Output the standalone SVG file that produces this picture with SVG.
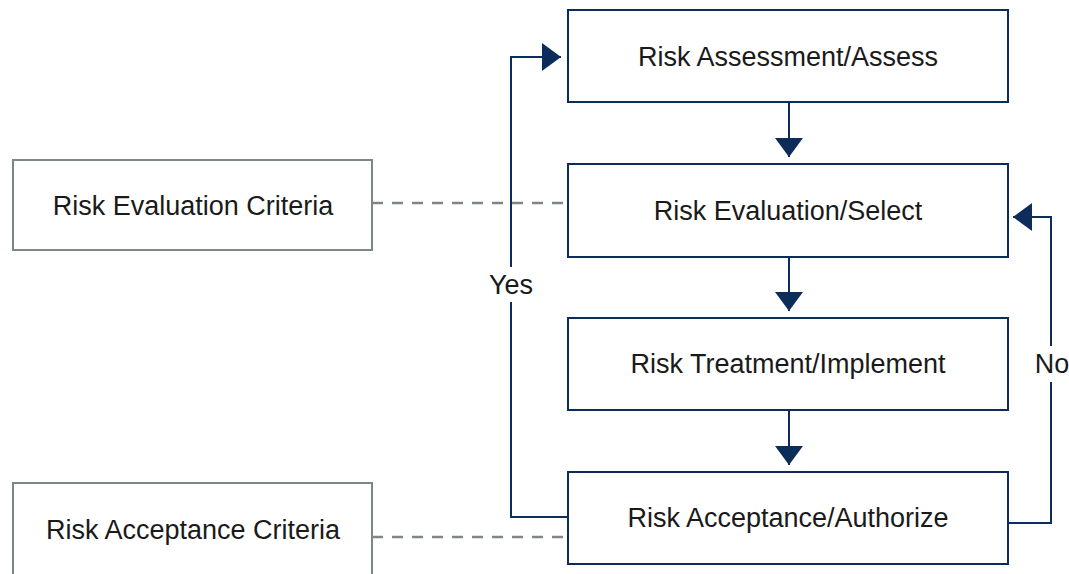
<svg xmlns="http://www.w3.org/2000/svg" width="1069" height="574" viewBox="0 0 1069 574">
  <style>
    .step rect { fill: #ffffff; stroke: #0c2d5a; stroke-width: 2; }
    .crit rect { fill: #ffffff; stroke: #7d8786; stroke-width: 2; }
    text { font-family: "Liberation Sans", Arial, sans-serif; font-size: 27px; fill: #1a1a1a; text-anchor: middle; dominant-baseline: central; }
    .flow { fill: none; stroke: #0c2d5a; stroke-width: 2; }
    .link { fill: none; stroke: #7d8786; stroke-width: 2.5; stroke-dasharray: 11 9; }
  </style>
  <defs>
    <marker id="arrow" viewBox="0 0 19 28" refX="19" refY="14" markerWidth="19" markerHeight="28" markerUnits="userSpaceOnUse" orient="auto">
      <path d="M0,0 L19,14 L0,28 Z" fill="#0c2d5a"/>
    </marker>
  </defs>

  <rect width="1069" height="574" fill="#ffffff"/>

  <g id="connectors">
    <!-- dashed links from criteria to steps -->
    <path class="link" d="M372,203 H568"/>
    <path class="link" d="M372,537 H568"/>
    <!-- main sequence -->
    <path class="flow" d="M789,102 V157" marker-end="url(#arrow)"/>
    <path class="flow" d="M789,257 V311" marker-end="url(#arrow)"/>
    <path class="flow" d="M789,410 V465" marker-end="url(#arrow)"/>
    <!-- Yes loop back to assessment -->
    <path class="flow" d="M568,517 H511 V302"/>
    <path class="flow" d="M511,267 V57 H561" marker-end="url(#arrow)"/>
    <!-- No loop back to evaluation -->
    <path class="flow" d="M1008,523 H1051 V382"/>
    <path class="flow" d="M1051,346 V217 H1013" marker-end="url(#arrow)"/>
    <text x="511" y="285">Yes</text>
    <text x="1052" y="364">No</text>
  </g>

  <g id="risk-assessment" class="step">
    <rect x="568" y="10" width="440" height="92"/>
    <text x="788" y="57">Risk Assessment/Assess</text>
  </g>
  <g id="risk-evaluation" class="step">
    <rect x="568" y="164" width="440" height="93"/>
    <text x="788" y="211">Risk Evaluation/Select</text>
  </g>
  <g id="risk-treatment" class="step">
    <rect x="568" y="318" width="440" height="92"/>
    <text x="788" y="364">Risk Treatment/Implement</text>
  </g>
  <g id="risk-acceptance" class="step">
    <rect x="568" y="472" width="440" height="92"/>
    <text x="788" y="518">Risk Acceptance/Authorize</text>
  </g>
  <g id="evaluation-criteria" class="crit">
    <rect x="13" y="160" width="359" height="90"/>
    <text x="193" y="206">Risk Evaluation Criteria</text>
  </g>
  <g id="acceptance-criteria" class="crit">
    <rect x="13" y="483" width="359" height="100"/>
    <text x="193" y="530">Risk Acceptance Criteria</text>
  </g>
</svg>
